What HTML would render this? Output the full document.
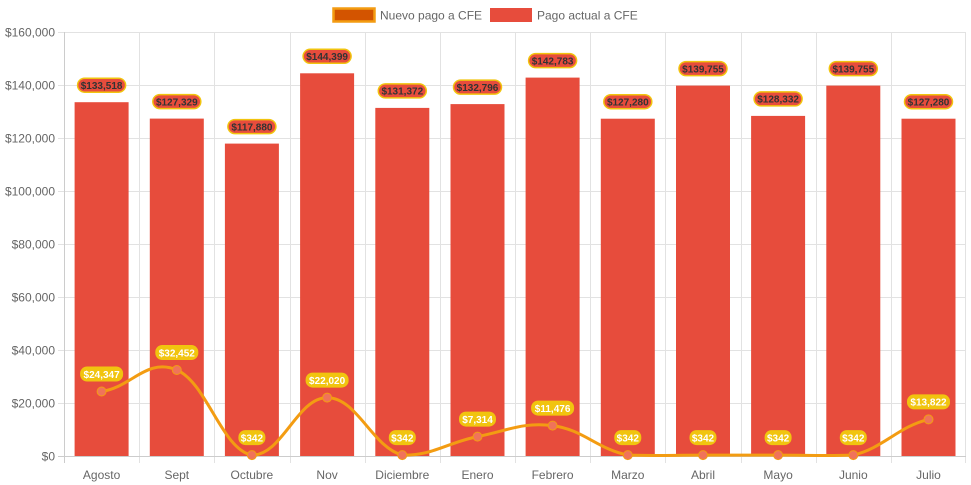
<!DOCTYPE html>
<html><head><meta charset="utf-8"><style>
html,body{margin:0;padding:0;background:#fff;}
svg{display:block;font-family:"Liberation Sans",Arial,sans-serif;}
.yl{font-size:12px;fill:#666;text-anchor:end;}
.xl{font-size:12px;fill:#666;text-anchor:middle;}
.bl{font-size:10px;font-weight:bold;fill:#333;text-anchor:middle;}
.ll{font-size:10px;font-weight:bold;fill:#fff;text-anchor:middle;}
.bp{fill:#e74c3c;stroke:#f1c40f;stroke-width:1.5;}
.lp{fill:#f1c40f;}
</style></head><body>
<svg width="971" height="485" viewBox="0 0 971 485">
<!-- legend -->
<rect x="333.5" y="8.5" width="41" height="13" fill="#d35400" stroke="#f39c12" stroke-width="2.5"/>
<text x="380" y="19.5" font-size="12" fill="#666">Nuevo pago a CFE</text>
<rect x="490" y="8" width="42" height="14" fill="#e74c3c"/>
<text x="537" y="19.5" font-size="12" fill="#666">Pago actual a CFE</text>
<!-- grid -->
<g stroke="#e2e2e2" stroke-width="1">
<line x1="58" y1="32.5" x2="966" y2="32.5"/>
<line x1="58" y1="85.5" x2="966" y2="85.5"/>
<line x1="58" y1="138.5" x2="966" y2="138.5"/>
<line x1="58" y1="191.5" x2="966" y2="191.5"/>
<line x1="58" y1="244.5" x2="966" y2="244.5"/>
<line x1="58" y1="297.5" x2="966" y2="297.5"/>
<line x1="58" y1="350.5" x2="966" y2="350.5"/>
<line x1="58" y1="403.5" x2="966" y2="403.5"/>
<line x1="64.5" y1="32" x2="64.5" y2="463"/>
<line x1="139.5" y1="32" x2="139.5" y2="463"/>
<line x1="214.5" y1="32" x2="214.5" y2="463"/>
<line x1="290.5" y1="32" x2="290.5" y2="463"/>
<line x1="365.5" y1="32" x2="365.5" y2="463"/>
<line x1="440.5" y1="32" x2="440.5" y2="463"/>
<line x1="515.5" y1="32" x2="515.5" y2="463"/>
<line x1="590.5" y1="32" x2="590.5" y2="463"/>
<line x1="665.5" y1="32" x2="665.5" y2="463"/>
<line x1="741.5" y1="32" x2="741.5" y2="463"/>
<line x1="816.5" y1="32" x2="816.5" y2="463"/>
<line x1="891.5" y1="32" x2="891.5" y2="463"/>
<line x1="965.5" y1="32" x2="965.5" y2="463"/>
</g>
<line x1="58" y1="456.5" x2="966" y2="456.5" stroke="#ccc"/>
<line x1="64.5" y1="32" x2="64.5" y2="463" stroke="#ccc"/>
<!-- y labels -->
<text class="yl" x="55" y="36.5">$160,000</text>
<text class="yl" x="55" y="89.5">$140,000</text>
<text class="yl" x="55" y="142.5">$120,000</text>
<text class="yl" x="55" y="195.5">$100,000</text>
<text class="yl" x="55" y="248.5">$80,000</text>
<text class="yl" x="55" y="301.5">$60,000</text>
<text class="yl" x="55" y="354.5">$40,000</text>
<text class="yl" x="55" y="407.5">$20,000</text>
<text class="yl" x="55" y="460.5">$0</text>
<!-- x labels -->
<text class="xl" x="101.6" y="479">Agosto</text>
<text class="xl" x="176.8" y="479">Sept</text>
<text class="xl" x="251.9" y="479">Octubre</text>
<text class="xl" x="327.1" y="479">Nov</text>
<text class="xl" x="402.3" y="479">Diciembre</text>
<text class="xl" x="477.5" y="479">Enero</text>
<text class="xl" x="552.6" y="479">Febrero</text>
<text class="xl" x="627.8" y="479">Marzo</text>
<text class="xl" x="703" y="479">Abril</text>
<text class="xl" x="778.1" y="479">Mayo</text>
<text class="xl" x="853.3" y="479">Junio</text>
<text class="xl" x="928.5" y="479">Julio</text>
<!-- bars -->
<g fill="#e74c3c">
<rect x="74.6" y="102.2" width="54" height="353.8"/>
<rect x="149.8" y="118.6" width="54" height="337.4"/>
<rect x="224.9" y="143.6" width="54" height="312.4"/>
<rect x="300.1" y="73.3" width="54" height="382.7"/>
<rect x="375.3" y="107.9" width="54" height="348.1"/>
<rect x="450.5" y="104.1" width="54" height="351.9"/>
<rect x="525.6" y="77.6" width="54" height="378.4"/>
<rect x="600.8" y="118.7" width="54" height="337.3"/>
<rect x="676" y="85.6" width="54" height="370.4"/>
<rect x="751.1" y="115.9" width="54" height="340.1"/>
<rect x="826.3" y="85.6" width="54" height="370.4"/>
<rect x="901.5" y="118.7" width="54" height="337.3"/>
</g>
<!-- bar labels -->
<rect class="bp" x="77.6" y="78.2" width="48" height="14" rx="7"/><text class="bl" x="101.6" y="89">$133,518</text>
<rect class="bp" x="152.8" y="94.6" width="48" height="14" rx="7"/><text class="bl" x="176.8" y="105.4">$127,329</text>
<rect class="bp" x="227.9" y="119.6" width="48" height="14" rx="7"/><text class="bl" x="251.9" y="130.4">$117,880</text>
<rect class="bp" x="303.1" y="49.3" width="48" height="14" rx="7"/><text class="bl" x="327.1" y="60.1">$144,399</text>
<rect class="bp" x="378.3" y="83.9" width="48" height="14" rx="7"/><text class="bl" x="402.3" y="94.7">$131,372</text>
<rect class="bp" x="453.5" y="80.1" width="48" height="14" rx="7"/><text class="bl" x="477.5" y="90.9">$132,796</text>
<rect class="bp" x="528.6" y="53.6" width="48" height="14" rx="7"/><text class="bl" x="552.6" y="64.4">$142,783</text>
<rect class="bp" x="603.8" y="94.7" width="48" height="14" rx="7"/><text class="bl" x="627.8" y="105.5">$127,280</text>
<rect class="bp" x="679" y="61.6" width="48" height="14" rx="7"/><text class="bl" x="703" y="72.4">$139,755</text>
<rect class="bp" x="754.1" y="91.9" width="48" height="14" rx="7"/><text class="bl" x="778.1" y="102.7">$128,332</text>
<rect class="bp" x="829.3" y="61.6" width="48" height="14" rx="7"/><text class="bl" x="853.3" y="72.4">$139,755</text>
<rect class="bp" x="904.5" y="94.7" width="48" height="14" rx="7"/><text class="bl" x="928.5" y="105.5">$127,280</text>
<!-- line -->
<path fill="none" stroke="#f39c12" stroke-width="3" d="M101.6,391.5 C131.6,387.2 146.8,357.3 176.8,370 C206.8,382.7 221.9,449.6 251.9,455.1 C281.9,456 297.1,397.6 327.1,397.6 C357.1,397.6 372.3,447.3 402.3,455.1 C432.3,456 447.5,442.5 477.5,436.6 C507.5,430.7 522.6,421.9 552.6,425.6 C582.6,429.3 597.8,449.2 627.8,455.1 C657.8,456 673,455.1 703,455.1 C733,455.1 748.1,455.1 778.1,455.1 C808.1,455.1 823.3,456 853.3,455.1 C883.3,448 898.5,426.5 928.5,419.4"/>
<g fill="#f0735a" stroke="#f39c12" stroke-width="1">
<circle cx="101.6" cy="391.5" r="4.5"/><circle cx="176.8" cy="370" r="4.5"/><circle cx="251.9" cy="455.1" r="4.5"/><circle cx="327.1" cy="397.6" r="4.5"/><circle cx="402.3" cy="455.1" r="4.5"/><circle cx="477.5" cy="436.6" r="4.5"/><circle cx="552.6" cy="425.6" r="4.5"/><circle cx="627.8" cy="455.1" r="4.5"/><circle cx="703" cy="455.1" r="4.5"/><circle cx="778.1" cy="455.1" r="4.5"/><circle cx="853.3" cy="455.1" r="4.5"/><circle cx="928.5" cy="419.4" r="4.5"/>
</g>
<!-- line labels -->
<rect class="lp" x="80.1" y="366.5" width="43" height="15" rx="7"/><text class="ll" x="101.6" y="377.8">$24,347</text>
<rect class="lp" x="155.3" y="345" width="43" height="15" rx="7"/><text class="ll" x="176.8" y="356.3">$32,452</text>
<rect class="lp" x="238.4" y="430.1" width="27" height="15" rx="7"/><text class="ll" x="251.9" y="441.4">$342</text>
<rect class="lp" x="305.6" y="372.6" width="43" height="15" rx="7"/><text class="ll" x="327.1" y="383.9">$22,020</text>
<rect class="lp" x="388.8" y="430.1" width="27" height="15" rx="7"/><text class="ll" x="402.3" y="441.4">$342</text>
<rect class="lp" x="459" y="411.6" width="37" height="15" rx="7"/><text class="ll" x="477.5" y="422.9">$7,314</text>
<rect class="lp" x="531.1" y="400.6" width="43" height="15" rx="7"/><text class="ll" x="552.6" y="411.9">$11,476</text>
<rect class="lp" x="614.3" y="430.1" width="27" height="15" rx="7"/><text class="ll" x="627.8" y="441.4">$342</text>
<rect class="lp" x="689.5" y="430.1" width="27" height="15" rx="7"/><text class="ll" x="703" y="441.4">$342</text>
<rect class="lp" x="764.6" y="430.1" width="27" height="15" rx="7"/><text class="ll" x="778.1" y="441.4">$342</text>
<rect class="lp" x="839.8" y="430.1" width="27" height="15" rx="7"/><text class="ll" x="853.3" y="441.4">$342</text>
<rect class="lp" x="907" y="394.4" width="43" height="15" rx="7"/><text class="ll" x="928.5" y="405.7">$13,822</text>
</svg>
</body></html>
